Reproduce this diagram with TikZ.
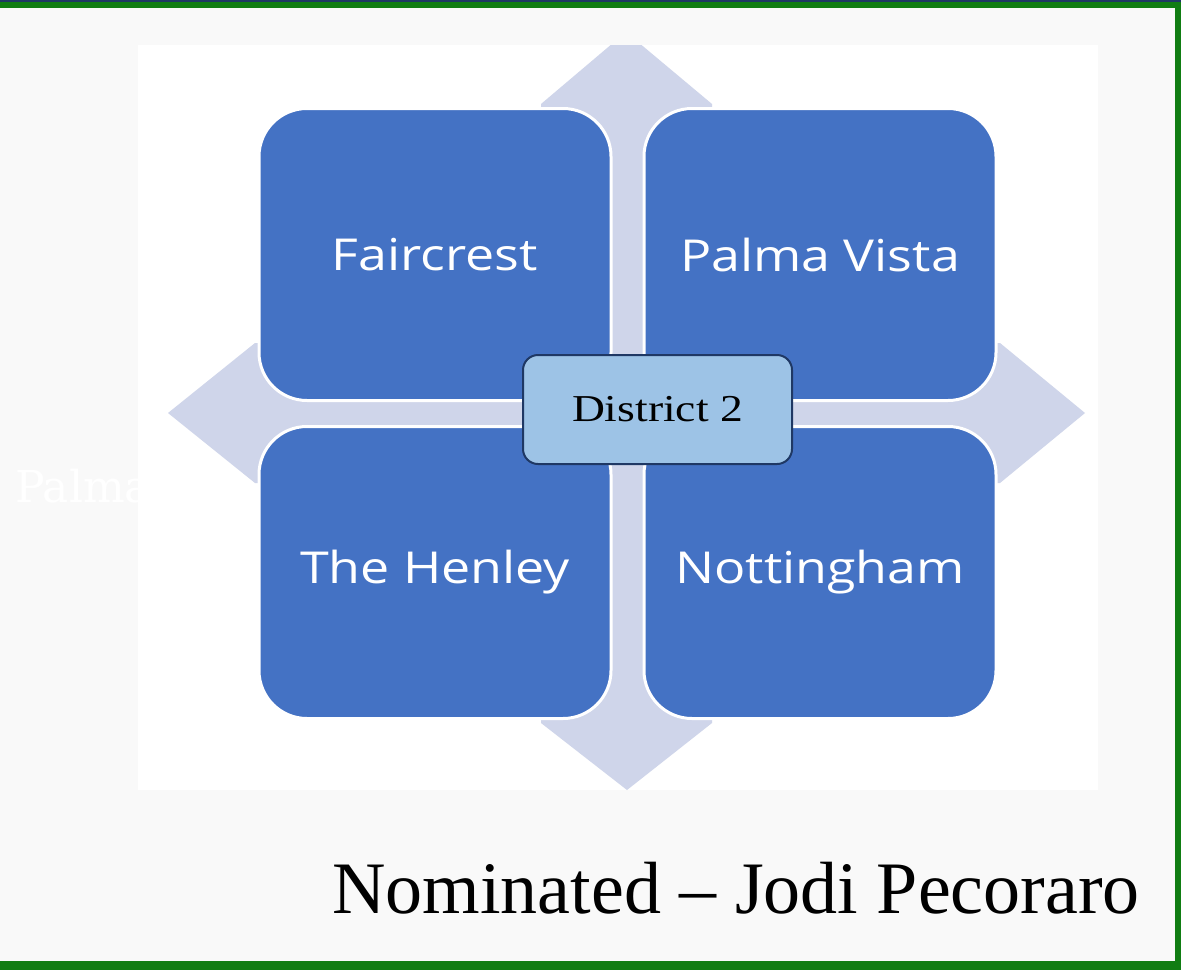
\documentclass[tikz,border=0pt]{standalone}
\usepackage{fontspec}
\setmainfont{Liberation Serif}
\newfontfamily\quadfont{Open Sans}
\newfontfamily\slabfont{DejaVu Serif}
\definecolor{pagegray}{HTML}{F9F9F9}
\definecolor{framegreen}{HTML}{117D13}
\definecolor{lavender}{HTML}{CFD5EA}
\definecolor{quadblue}{HTML}{4472C4}
\definecolor{hubblue}{HTML}{9DC3E6}
\definecolor{hubedge}{HTML}{1F3864}
\tikzset{
  quad/.style={draw=white, line width=3pt, fill=quadblue, rounded corners=48pt,
    minimum width=352pt, minimum height=292pt, inner sep=0pt, text=white,
    font=\quadfont\fontsize{44}{44}\selectfont},
  hub/.style={draw=hubedge, line width=2pt, fill=hubblue, rounded corners=15pt,
    minimum width=269pt, minimum height=109pt, inner sep=0pt,
    font=\fontsize{38}{38}\selectfont},
}

\begin{document}
\begin{tikzpicture}[x=1pt, y=-1pt]
\useasboundingbox (0,0) rectangle (1181,970);
\fill[pagegray] (0,0) rectangle (1181,970);
\node[anchor=base west, inner sep=0pt, text=white, font=\slabfont\fontsize{44}{44}\selectfont] (ghost) at (15,502) {Palma};
\fill[white] (138,45) rectangle (1098,790);
% cross with diamond heads behind the four boxes
\begin{scope}
\clip (138,45) rectangle (1098,790);
\fill[lavender] (626,32) -- (712,104) -- (712,343) -- (1000,343) -- (1085,413) -- (1000,483)
  -- (712,483) -- (712,723) -- (627,790) -- (541,723) -- (541,483) -- (255,483)
  -- (168,413) -- (255,343) -- (541,343) -- (541,104) -- cycle;
\end{scope}
\node[quad] (faircrest) at (435,254.5) {\scalebox{1.18}[1]{Faircrest}};
\node[quad] (palmavista) at (820,254.5) {\scalebox{1.18}[1]{Palma Vista}};
\node[quad] (henley) at (435,572.5) {\scalebox{1.18}[1]{The Henley}};
\node[quad] (nottingham) at (820,572.5) {\scalebox{1.18}[1]{Nottingham}};
\node[hub] (district) at (657.5,409.5) {\scalebox{1.2}[1]{District 2}};
\node[anchor=base west, inner sep=0pt, font=\fontsize{74}{74}\selectfont] (caption) at (332,913) {Nominated -- Jodi Pecoraro};
% frame
\fill[framegreen] (0,0) rectangle (1181,8);
\fill[framegreen] (1175,0) rectangle (1181,970);
\fill[framegreen] (0,961) rectangle (1181,970);
\fill[hubedge] (0,0) rectangle (1181,1.5);
\end{tikzpicture}
\end{document}
